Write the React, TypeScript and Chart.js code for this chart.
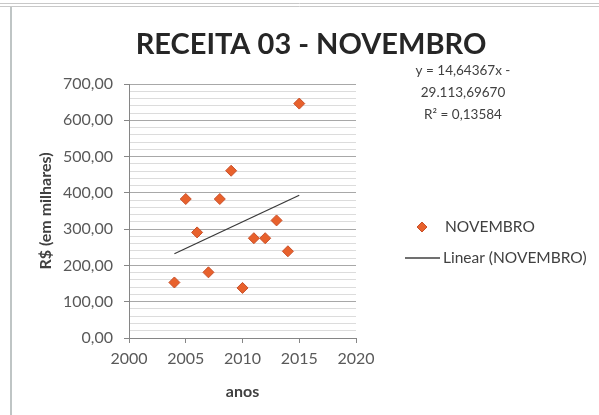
import React, { useEffect, useRef } from "react";
import { Chart, registerables } from "chart.js";

Chart.register(...registerables);

const years = [2004, 2005, 2006, 2007, 2008, 2009, 2010, 2011, 2012, 2013, 2014, 2015];
const values = [153, 383, 291, 181, 383, 461, 138, 275, 275, 324, 239, 646];
const trendYears = [2004, 2015];
const trendValues = [232.2, 393.4];
const equationLines = ["y = 14,64367x -", "29.113,69670", "R² = 0,13584"];
const seriesName = "NOVEMBRO";
const trendName = "Linear (NOVEMBRO)";
const chartTitle = "RECEITA 03 - NOVEMBRO";
const xTitle = "anos";
const yTitle = "R$ (em milhares)";

const FONT = "Lato";
const POINT_FILL = "#E8612C";
const POINT_EDGE = "#C8502A";
const TEXT = "#404040";

export default function App() {
  const ref = useRef<HTMLCanvasElement | null>(null);
  useEffect(() => {
    if (!ref.current) return;
    const extras = {
      id: "extras",
      beforeDraw(chart: any) {
        const c = chart.ctx;
        c.save();
        c.strokeStyle = "#c8c8c8";
        c.lineWidth = 1;
        c.beginPath();
        c.moveTo(0, 3.5); c.lineTo(599, 3.5);
        c.moveTo(0, 6.5); c.lineTo(599, 6.5);
        c.stroke();
        c.strokeStyle = "#bfc5c5";
        c.lineWidth = 2;
        c.beginPath();
        c.moveTo(11, 7); c.lineTo(11, 415);
        c.stroke();
        c.restore();
      },
      afterDraw(chart: any) {
        const c = chart.ctx;
        c.save();
        c.fillStyle = TEXT;
        c.font = `13.5px ${FONT}`;
        c.textAlign = "center";
        c.textBaseline = "middle";
        equationLines.forEach((t, i) => c.fillText(t, 463, 71 + i * 22));
        // legend
        const dx = 422, dy = 227, r = 5;
        c.beginPath();
        c.moveTo(dx, dy - r); c.lineTo(dx + r, dy); c.lineTo(dx, dy + r); c.lineTo(dx - r, dy); c.closePath();
        c.fillStyle = POINT_FILL; c.fill();
        c.strokeStyle = POINT_EDGE; c.lineWidth = 1; c.stroke();
        c.fillStyle = TEXT;
        c.textAlign = "left";
        c.font = `15.5px ${FONT}`;
        c.fillText(seriesName, 445, dy);
        c.strokeStyle = "#404040"; c.lineWidth = 1.3;
        c.beginPath(); c.moveTo(405, 258); c.lineTo(440, 258); c.stroke();
        c.fillText(trendName, 443, 258);
        c.restore();
      },
    };
    const chart = new Chart(ref.current, {
      type: "scatter",
      data: {
        datasets: [
          {
            label: seriesName,
            data: years.map((x, i) => ({ x, y: values[i] })),
            pointStyle: "rectRot",
            pointRadius: 5.5,
            backgroundColor: POINT_FILL,
            borderColor: POINT_EDGE,
            borderWidth: 1,
          },
          {
            type: "line",
            label: trendName,
            data: trendYears.map((x, i) => ({ x, y: trendValues[i] })),
            borderColor: "#3a3a3a",
            borderWidth: 1.3,
            pointRadius: 0,
            fill: false,
          },
        ],
      },
      options: {
        animation: false,
        responsive: false,
        layout: { padding: { left: 23, right: 0, top: 0, bottom: 0 } },
        plugins: {
          legend: { display: false },
          tooltip: { enabled: false },
          title: {
            display: true,
            text: chartTitle,
            color: "#262626",
            font: { family: FONT, size: 29, weight: "bold" },
            padding: { top: 27, bottom: 22.2 },
          },
        },
        scales: {
          x: {
            type: "linear",
            min: 2000,
            max: 2020,
            ticks: {
              stepSize: 5,
              color: "#595959",
              font: { family: FONT, size: 16 },
              padding: 6,
              maxRotation: 0,
              callback: (v: any) => String(v),
            },
            grid: { drawOnChartArea: false, drawTicks: true, tickLength: 5, color: "#868686" },
            border: { color: "#868686", width: 1 },
            title: {
              display: true,
              text: xTitle,
              color: TEXT,
              font: { family: FONT, size: 16, weight: "bold" },
              padding: { top: 0, bottom: 14 },
            },
            afterFit: (s: any) => { s.height = 77; },
          },
          y: {
            type: "linear",
            min: 0,
            max: 700,
            ticks: {
              stepSize: 20,
              autoSkip: false,
              color: "#595959",
              font: { family: FONT, size: 16 },
              padding: 11,
              callback: (v: any) => (Math.round(v) % 100 === 0 ? Number(v).toFixed(2).replace(".", ",") : ""),
            },
            grid: {
              color: (ctx: any) => (ctx.tick && Math.round(ctx.tick.value) % 100 === 0 ? "#a8a8a8" : "#dcdcdc"),
              tickColor: (ctx: any) => (ctx.tick && Math.round(ctx.tick.value) % 100 === 0 ? "#868686" : "rgba(0,0,0,0)"),
              tickLength: 5,
            },
            border: { color: "#868686", width: 1 },
            title: {
              display: true,
              text: yTitle,
              color: TEXT,
              font: { family: FONT, size: 16, weight: "bold" },
              padding: { top: 13, bottom: 0 },
            },
            afterFit: (s: any) => { s.width = 106; },
          },
          y2: {
            position: "right",
            display: true,
            grid: { display: false },
            ticks: { display: false },
            border: { display: false },
            afterFit: (s: any) => { s.width = 243; },
          },
        },
      },
      plugins: [extras],
    } as any);
    return () => chart.destroy();
  }, []);
  return (
    <div style={{ position: "fixed", left: 0, top: 0, width: 599, height: 415, background: "#fff" }}>
      <canvas ref={ref} width={599} height={415} style={{ display: "block" }} />
    </div>
  );
}
